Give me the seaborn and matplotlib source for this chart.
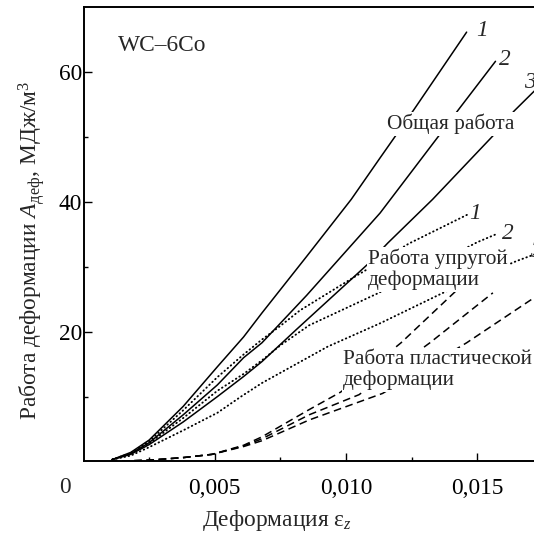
import matplotlib
matplotlib.use("Agg")
import matplotlib.pyplot as plt
import seaborn as sns
import pandas as pd

# ---------------- data ----------------
# Total work ("Общая работа"), curves 1-3
total1_x = [0.0011, 0.0018, 0.0025, 0.0038, 0.0051, 0.0061, 0.0068, 0.0085, 0.0102, 0.0113, 0.0126, 0.0146]
total1_y = [0.3, 1.4, 3.3, 8.5, 14.6, 19.2, 22.9, 31.6, 40.4, 46.8, 54.3, 66.2]
total2_x = [0.0011, 0.0018, 0.0025, 0.0038, 0.0051, 0.0061, 0.0068, 0.0085, 0.0113, 0.0135, 0.0143, 0.0157]
total2_y = [0.3, 1.2, 2.9, 7.2, 11.8, 16.0, 18.3, 25.6, 38.3, 50.0, 54.3, 61.7]
total3_x = [0.0011, 0.0018, 0.0025, 0.0038, 0.0051, 0.0061, 0.0068, 0.0081, 0.0108, 0.0116, 0.0133, 0.0156, 0.0164, 0.0173]
total3_y = [0.3, 1.1, 2.6, 6.1, 10.0, 13.1, 15.4, 20.3, 30.3, 33.7, 40.4, 50.2, 54.0, 57.6]

# Elastic work ("Работа упругой деформации"), curves 1-3
elastic1_x = [0.0011, 0.0018, 0.0025, 0.0038, 0.0051, 0.0061, 0.0068, 0.0075, 0.00825, 0.0103, 0.0108, 0.0124, 0.0147]
elastic1_y = [0.3, 1.3, 3.1, 7.9, 13.0, 16.5, 18.8, 20.9, 23.3, 28.4, 29.6, 33.6, 38.2]
elastic2_x = [0.0011, 0.0018, 0.0025, 0.0038, 0.0051, 0.0061, 0.0068, 0.0075, 0.0086, 0.0112, 0.0130, 0.0150, 0.0157]
elastic2_y = [0.3, 1.2, 2.8, 6.7, 10.9, 13.5, 15.6, 17.9, 21.0, 25.9, 29.6, 33.8, 35.0]
elastic3_x = [0.0011, 0.0018, 0.0025, 0.0038, 0.0051, 0.0060, 0.0068, 0.0093, 0.0113, 0.0137, 0.0165, 0.0173]
elastic3_y = [0.3, 0.9, 2.2, 4.8, 7.5, 10.0, 12.1, 17.7, 21.3, 26.0, 30.9, 32.1]

# Plastic work ("Работа пластической деформации"), curves 1-3
plastic1_x = [0.0010, 0.0025, 0.0038, 0.0049, 0.0061, 0.0068, 0.0086, 0.0098, 0.0121, 0.0143]
plastic1_y = [0.0, 0.2, 0.6, 1.1, 2.5, 3.8, 8.0, 10.7, 18.3, 26.7]
plastic2_x = [0.0010, 0.0025, 0.0038, 0.0049, 0.0061, 0.0068, 0.0086, 0.0105, 0.0132, 0.0156]
plastic2_y = [0.0, 0.2, 0.6, 1.1, 2.4, 3.5, 7.2, 10.3, 18.3, 26.0]
plastic3_x = [0.0010, 0.0025, 0.0038, 0.0049, 0.0061, 0.0068, 0.0086, 0.0114, 0.0146, 0.0173]
plastic3_y = [0.0, 0.2, 0.6, 1.1, 2.3, 3.2, 6.4, 10.5, 18.3, 25.6]

x_ticks = [0.005, 0.010, 0.015]
x_tick_labels = ["0,005", "0,010", "0,015"]
y_ticks = [20, 40, 60]
y_tick_labels = ["20", "40", "60"]

# ---------------- build table ----------------
def frame(xs, ys, kind, sample):
    return pd.DataFrame({"strain": xs, "work": ys, "kind": kind, "sample": sample})

df = pd.concat([
    frame(total1_x, total1_y, "total", 1),
    frame(total2_x, total2_y, "total", 2),
    frame(total3_x, total3_y, "total", 3),
    frame(elastic1_x, elastic1_y, "elastic", 1),
    frame(elastic2_x, elastic2_y, "elastic", 2),
    frame(elastic3_x, elastic3_y, "elastic", 3),
    frame(plastic1_x, plastic1_y, "plastic", 1),
    frame(plastic2_x, plastic2_y, "plastic", 2),
    frame(plastic3_x, plastic3_y, "plastic", 3),
], ignore_index=True)

# ---------------- style ----------------
sns.set_style("ticks")
plt.rcParams["font.family"] = ["Liberation Serif", "DejaVu Serif"]
plt.rcParams["mathtext.fontset"] = "custom"
plt.rcParams["mathtext.rm"] = "Liberation Serif"
plt.rcParams["mathtext.it"] = "Liberation Serif:italic"
plt.rcParams["mathtext.bf"] = "Liberation Serif:bold"

FS_TICK = 16.8
FS_LAB = 16.8
FS_TXT = 15.3

fig = plt.figure(figsize=(5.34, 5.34), dpi=100)
ax = fig.add_axes([0.1564, 0.1358, 0.9828, 0.8502])

line_styles = {
    "total": dict(linestyle="-", lw=1.1),
    "elastic": dict(linestyle=(0, (0.3, 1.9)), dash_capstyle="round", lw=1.35),
    "plastic": dict(linestyle=(0, (5.0, 3.0)), lw=1.1),
}
for kind, kw in line_styles.items():
    sns.lineplot(data=df[df["kind"] == kind], x="strain", y="work", units="sample",
                 estimator=None, color="black", legend=False, ax=ax, **kw)

ax.set_xlim(0, 0.02)
ax.set_ylim(0, 70)

ax.set_xticks(x_ticks)
ax.set_xticklabels(x_tick_labels)
ax.set_yticks(y_ticks)
ax.set_yticklabels(y_tick_labels)
ax.set_xticks([0.0025, 0.0075, 0.0125, 0.0175], minor=True)
ax.set_yticks([10, 30, 50], minor=True)

ax.tick_params(which="both", direction="in", width=1.0, colors="black", labelsize=FS_TICK)
ax.tick_params(which="major", length=6)
ax.tick_params(which="minor", length=3.2)
ax.tick_params(axis="x", which="major", pad=12.0)
ax.tick_params(axis="y", which="major", pad=1.2)
ax.tick_params(top=False, right=False)

for s in ["left", "bottom", "top", "right"]:
    ax.spines[s].set_linewidth(1.4)
    ax.spines[s].set_color("black")

ax.set_xlabel("Деформация ε$_z$", fontsize=FS_LAB, va="center")
ax.xaxis.set_label_coords(0.368, -0.131)
ax.set_ylabel("Работа деформации $A_{\\mathrm{деф}}$, МДж/м$^3$", fontsize=FS_LAB, va="center")
ax.yaxis.set_label_coords(-0.099, 0.466)

# corner zero
ax.annotate("0", xy=(0, 0), xycoords="axes fraction", xytext=(-9.0, -18.4),
            textcoords="offset points", ha="right", va="center", fontsize=FS_TICK)

# annotations
ax.text(0.0013, 64.2, "WC–6Co", fontsize=FS_LAB, ha="left", va="center")
box = dict(boxstyle="square,pad=0.08", facecolor="white", edgecolor="none")
ax.text(0.0140, 52.1, "Общая работа", fontsize=FS_TXT, ha="center", va="center", bbox=box, zorder=5)
ax.text(0.01085, 29.6, "Работа упругой\nдеформации", fontsize=FS_TXT, ha="left", va="center",
        linespacing=1.1, bbox=box, zorder=5)
ax.text(0.0099, 14.1, "Работа пластической\nдеформации", fontsize=FS_TXT, ha="left", va="center",
        linespacing=1.1, bbox=box, zorder=5)

for (xv, yv, t) in [(0.01517, 66.4, "1"), (0.01606, 62.0, "2"), (0.01703, 58.4, "3"),
                    (0.01492, 38.3, "1"), (0.01616, 35.1, "2"), (0.01725, 32.4, "3")]:
    ax.text(xv, yv, t, fontsize=FS_LAB, style="italic", ha="center", va="center")

fig.savefig("out.png", dpi=100)
